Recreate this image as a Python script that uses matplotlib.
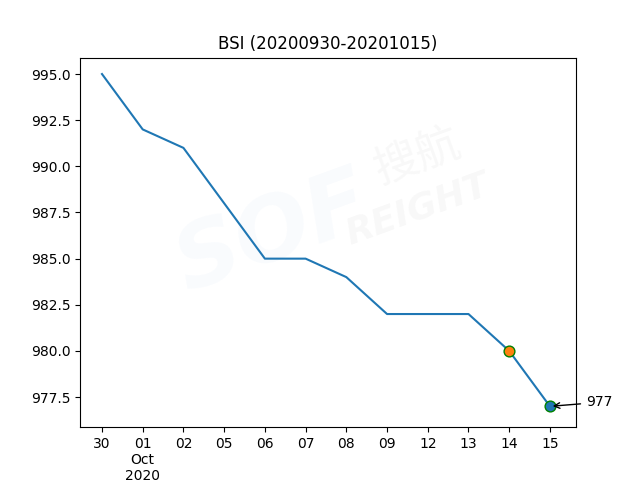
import matplotlib.pyplot as plt

days = ["30", "01", "02", "05", "06", "07", "08", "09", "12", "13", "14", "15"]
values = [995, 992, 991, 988, 985, 985, 984, 982, 982, 982, 980, 977]
tick_labels = ["30", "01\nOct\n2020", "02", "05", "06", "07", "08", "09", "12", "13", "14", "15"]

fig, ax = plt.subplots(figsize=(6.4, 4.8), dpi=100)

x = list(range(len(days)))
ax.plot(x, values, color="C0")

# faint watermark
ax.text(0.39, 0.52, "SOF", transform=ax.transAxes, fontsize=64, fontweight="bold",
        fontstyle="italic", color="#4a90d9", alpha=0.035, rotation=20,
        ha="center", va="center", zorder=0)
ax.text(0.68, 0.73, "搜航", transform=ax.transAxes, fontsize=32,
        family=["Noto Sans CJK SC", "DejaVu Sans"], color="#888888", alpha=0.06,
        rotation=20, ha="center", va="center", zorder=0)
ax.text(0.68, 0.59, "REIGHT", transform=ax.transAxes, fontsize=26, fontweight="bold",
        fontstyle="italic", color="#888888", alpha=0.06, rotation=20,
        ha="center", va="center", zorder=0)

ax.scatter(x[-2], values[-2], s=60, color="C1", edgecolors="green", zorder=3)
ax.scatter(x[-1], values[-1], s=60, color="C0", edgecolors="green", zorder=3)
ax.annotate(str(values[-1]), xy=(x[-1], values[-1]), xytext=(26, 0),
            textcoords="offset points", arrowprops=dict(arrowstyle="->", color="black"))

ax.set_xticks(x)
ax.set_xticklabels(tick_labels)
ax.set_xlim(-0.54, 11.64)
ax.set_ylim(975.87, 995.89)
ax.set_title("BSI (20200930-20201015)")

plt.savefig("out.png")
plt.close()
